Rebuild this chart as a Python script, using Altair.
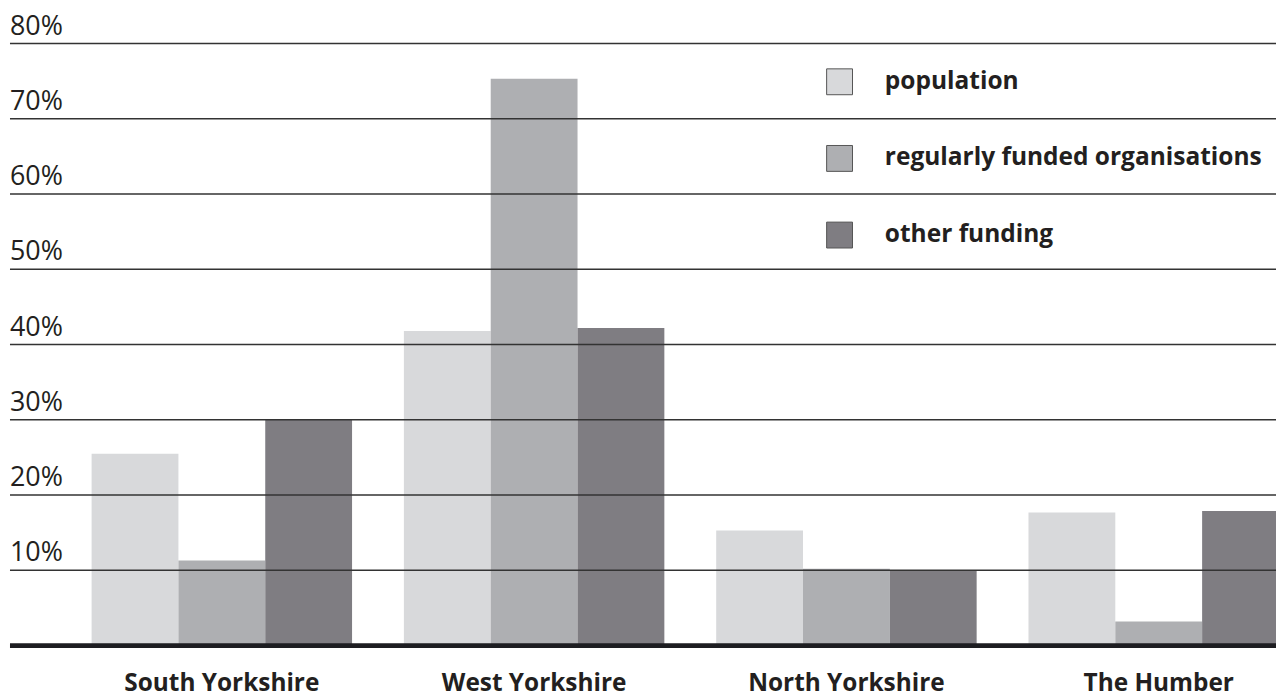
import altair as alt
import pandas as pd

regions = ["South Yorkshire", "West Yorkshire", "North Yorkshire", "The Humber"]
series = ["population", "regularly funded organisations", "other funding"]
population = [25.5, 41.8, 15.3, 17.7]
rfo = [11.3, 75.3, 10.2, 3.2]
other = [30.1, 42.2, 10.0, 17.9]
colors = ["#d8d9db", "#aeafb2", "#7f7d82"]
tick_values = [10, 20, 30, 40, 50, 60, 70, 80]
tick_labels = ["10%", "20%", "30%", "40%", "50%", "60%", "70%", "80%"]

rows = []
for i, r in enumerate(regions):
    for s, vals in zip(series, [population, rfo, other]):
        rows.append({"Region": r, "Series": s, "Value": vals[i]})
df = pd.DataFrame(rows)
ticks_df = pd.DataFrame({"v": tick_values, "label": tick_labels})

W, H = 1272, 605
TEXT = "#231f20"
FONT = "Open Sans"

yscale = alt.Scale(domain=[0, 80], nice=False, zero=True)
xscale = alt.Scale(domain=regions, range=[82, 1285], paddingInner=0.166, paddingOuter=0)

bars = alt.Chart(df).mark_bar(clip=True).encode(
    x=alt.X("Region:N", sort=regions, scale=xscale,
            axis=alt.Axis(title=None, ticks=False, tickSize=0, domain=False, grid=False,
                          labelAngle=0, labelFont=FONT, labelFontSize=24.5, labelFontWeight="bold",
                          labelColor=TEXT, labelBaseline="alphabetic", labelPadding=45,
                          labelLimit=500)),
    xOffset=alt.XOffset("Series:N", sort=series, scale=alt.Scale(paddingInner=0, paddingOuter=0)),
    y=alt.Y("Value:Q", scale=yscale, axis=None),
    color=alt.Color("Series:N", sort=series,
                    scale=alt.Scale(domain=series, range=colors),
                    legend=alt.Legend(title=None, orient="none", legendX=820, legendY=25,
                                      symbolType="square", symbolSize=676,
                                      symbolStrokeColor="#555555", symbolStrokeWidth=1,
                                      labelFont=FONT, labelFontSize=24.6, labelFontWeight="bold",
                                      labelColor=TEXT, labelOffset=32, rowPadding=46,
                                      labelLimit=500)),
)

grid = alt.Chart(ticks_df).mark_rule(color="#333333", strokeWidth=1.5).encode(
    y=alt.Y("v:Q", scale=yscale, axis=None)
)

labels = alt.Chart(ticks_df).mark_text(
    align="left", baseline="alphabetic", dy=-9, fontSize=27, font=FONT, color=TEXT
).encode(
    y=alt.Y("v:Q", scale=yscale, axis=None),
    x=alt.value(0),
    text="label:N",
)

base = alt.Chart(pd.DataFrame({"v": [0]})).mark_rule(color="#1d1d21", strokeWidth=5).encode(
    y=alt.Y("v:Q", scale=yscale, axis=None)
)

chart = alt.layer(bars, grid, labels, base).properties(
    width=W, height=H,
    autosize=alt.AutoSizeParams(type="none"),
    padding={"left": 2, "top": 34, "right": 0, "bottom": 53},
    view=alt.ViewBackground(stroke="transparent", strokeWidth=0),
).configure_view(stroke="transparent", strokeWidth=0).configure(background="white")

chart.save("out.html", embed_options={"renderer": "svg", "actions": False})
